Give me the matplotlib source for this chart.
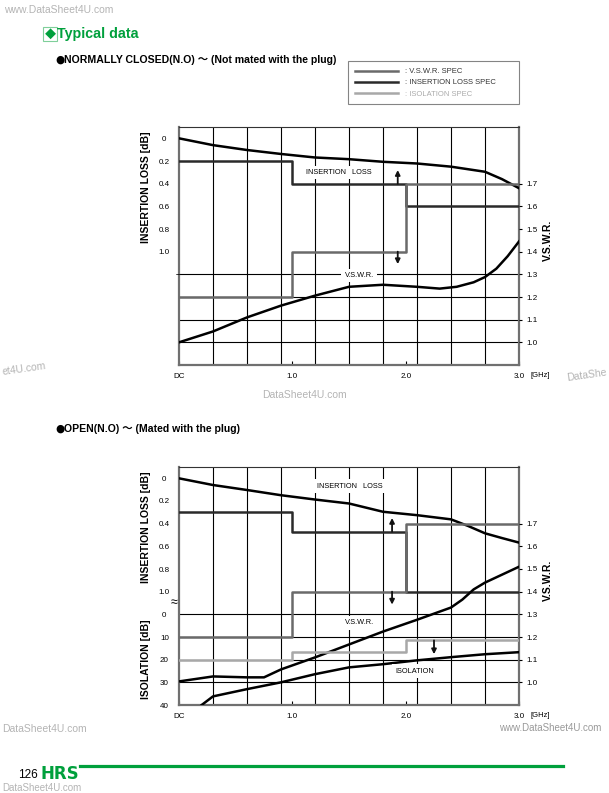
import matplotlib
matplotlib.use('Agg')
import matplotlib.pyplot as plt
from matplotlib.lines import Line2D
import numpy as np

plt.rcParams['font.family'] = ['Liberation Sans', 'Noto Sans CJK JP', 'DejaVu Sans']

# ==============================
# data
# ==============================
freq_ticks = [0, 1.0, 2.0, 3.0]
freq_tick_labels = ['DC', '1.0', '2.0', '3.0']
il_ticks = [0, 0.2, 0.4, 0.6, 0.8, 1.0]
il_tick_labels = ['0', '0.2', '0.4', '0.6', '0.8', '1.0']
vswr_ticks = [1.0, 1.1, 1.2, 1.3, 1.4, 1.5, 1.6, 1.7]
iso_ticks = [0, 10, 20, 30, 40]

spec_freq = [0, 1.0, 2.0, 3.0]     # spec band edges [GHz]

# normally closed, not mated
nc_il_freq = [0, 0.3, 0.6, 0.9, 1.2, 1.5, 1.8, 2.1, 2.4, 2.7, 2.85, 3.0]
nc_il = [0, 0.06, 0.103, 0.138, 0.169, 0.184, 0.207, 0.222, 0.25, 0.295, 0.36, 0.44]
nc_vswr_freq = [0, 0.3, 0.6, 0.9, 1.2, 1.5, 1.8, 2.1, 2.3, 2.45, 2.6, 2.7, 2.8, 2.9, 3.0]
nc_vswr = [1.0, 1.048, 1.11, 1.162, 1.206, 1.245, 1.254, 1.245, 1.237, 1.245,
           1.265, 1.288, 1.325, 1.38, 1.445]
nc_il_spec = [0.2, 0.4, 0.6]
nc_vswr_spec = [1.2, 1.4, 1.7]

# open, mated with the plug
op_il_freq = [0, 0.3, 0.6, 0.9, 1.2, 1.5, 1.8, 2.1, 2.4, 2.55, 2.7, 2.85, 3.0]
op_il = [0, 0.059, 0.103, 0.149, 0.187, 0.222, 0.295, 0.325, 0.362, 0.42, 0.485, 0.527, 0.567]
op_vswr_freq = [0, 0.3, 0.6, 0.75, 0.9, 1.2, 1.5, 1.8, 2.1, 2.4, 2.5, 2.6, 2.7, 2.85, 3.0]
op_vswr = [1.004, 1.026, 1.022, 1.022, 1.057, 1.11, 1.167, 1.224, 1.276, 1.33,
           1.365, 1.41, 1.44, 1.475, 1.51]
op_iso_freq = [0.2, 0.3, 0.6, 0.9, 1.2, 1.5, 1.8, 2.1, 2.4, 2.7, 3.0]
op_iso = [40, 36.2, 33, 30, 26.4, 23.4, 22, 20.3, 18.9, 17.6, 16.7]
op_il_spec = [0.3, 0.47, 1.0]
op_vswr_spec = [1.2, 1.4, 1.7]
op_iso_spec = [20, 16.5, 11.5]

# colours
GREEN = '#00a03c'
VSWR_SPEC_C = '#6a6a6a'
IL_SPEC_C = '#2a2a2a'
ISO_SPEC_C = '#a8a8a8'
WM = '#b4b4b4'

W, H = 609, 793
fig = plt.figure(figsize=(W / 100, H / 100), dpi=100)


def fx(px):
    return px / W


def fy(py):
    return 1 - py / H


def chart(top_px, il_f, il_v, vs_f, vs_v, il_spec, vs_spec,
          iso_f=None, iso_v=None, iso_spec=None):
    ax = fig.add_axes([fx(179), fy(top_px + 238), fx(519) - fx(179), 238 / H])
    ax.set_xlim(0, 3.0)
    ax.set_ylim(2.0, -0.1)

    # grid
    ax.set_xticks(np.arange(0.3, 2.8, 0.3), minor=True)
    ax.set_yticks(np.arange(0, 1.9, 0.2), minor=True)
    ax.grid(which='minor', color='black', lw=0.8)
    ax.tick_params(which='minor', length=0)

    ax.set_xticks(freq_ticks)
    ax.set_xticklabels(freq_tick_labels)
    ax.set_yticks(il_ticks)
    ax.set_yticklabels(il_tick_labels)
    ax.tick_params(axis='x', direction='in', length=3, labelsize=5.8, pad=6)
    ax.tick_params(axis='y', length=0, labelsize=5.8, pad=10.5)
    for lab in ax.get_yticklabels():
        lab.set_ha('center')
    for s in ['left', 'right', 'bottom']:
        ax.spines[s].set_color('#707070')
        ax.spines[s].set_linewidth(1.6)
    ax.spines['top'].set_color('#333333')
    ax.spines['top'].set_linewidth(0.8)

    # V.S.W.R. on the right, same rows
    axv = ax.twinx()
    axv.set_ylim(0.9, 1.95)
    axv.set_yticks(vswr_ticks)
    axv.set_yticklabels([f'{v:.1f}' for v in vswr_ticks])
    axv.tick_params(axis='y', direction='out', length=2, labelsize=5.8, pad=3)
    for s in axv.spines.values():
        s.set_visible(False)

    axv.step(spec_freq, vs_spec + vs_spec[-1:], where='post', color=VSWR_SPEC_C, lw=1.8)
    ax.step(spec_freq, il_spec + il_spec[-1:], where='post', color=IL_SPEC_C, lw=1.8, zorder=3)
    ax.plot(il_f, il_v, color='black', lw=1.8, zorder=4)
    axv.plot(vs_f, vs_v, color='black', lw=1.8)

    axi = None
    if iso_f is not None:
        axi = ax.twinx()
        axi.set_ylim(40, -65)
        axi.yaxis.tick_left()
        axi.set_yticks(iso_ticks)
        axi.set_yticklabels([str(v) for v in iso_ticks])
        axi.tick_params(axis='y', length=0, labelsize=5.8, pad=10.5)
        for lab in axi.get_yticklabels():
            lab.set_ha('center')
        for s in axi.spines.values():
            s.set_visible(False)
        axi.step(spec_freq, iso_spec + iso_spec[-1:], where='post', color=ISO_SPEC_C, lw=1.8)
        axi.plot(iso_f, iso_v, color='black', lw=1.8)

    ax.text(-0.097, 0.43, 'INSERTION LOSS [dB]', transform=ax.get_yaxis_transform(),
            rotation=90, ha='center', va='center', fontsize=7.5, fontweight='bold')
    axv.text(1.085, 1.45, 'V.S.W.R.', transform=axv.get_yaxis_transform(),
             rotation=90, ha='center', va='center', fontsize=7.5, fontweight='bold')
    ax.text(1.062, -0.046, '[GHz]', transform=ax.transAxes, ha='center', va='center',
            fontsize=5.5)
    return ax, axv, axi


arrow = dict(arrowstyle='-|>', color='#111111', lw=1.3, mutation_scale=7,
             shrinkA=0, shrinkB=0)
box = dict(boxstyle='square,pad=0.45', fc='white', ec='none')

# ---- N.C. chart ----
ax1, ax1v, _ = chart(127, nc_il_freq, nc_il, nc_vswr_freq, nc_vswr, nc_il_spec, nc_vswr_spec)
ax1.text(1.41, 0.30, 'INSERTION   LOSS', ha='center', va='center', fontsize=5.3,
         bbox=box, zorder=2.5)
ax1v.text(1.59, 1.295, 'V.S.W.R.', ha='center', va='center', fontsize=5.3, bbox=box)
ax1.annotate('', xy=(1.93, 0.28), xytext=(1.93, 0.4), arrowprops=arrow)
ax1v.annotate('', xy=(1.93, 1.345), xytext=(1.93, 1.4), arrowprops=arrow)
ax1.text(-0.004, 1.2, '–', transform=ax1.get_yaxis_transform(), ha='center',
         va='center', fontsize=6, fontweight='bold')

# ---- OPEN chart ----
ax2, ax2v, ax2i = chart(467, op_il_freq, op_il, op_vswr_freq, op_vswr, op_il_spec,
                        op_vswr_spec, op_iso_freq, op_iso, op_iso_spec)
ax2.text(1.51, 0.07, 'INSERTION   LOSS', ha='center', va='center', fontsize=5.3,
         bbox=box, zorder=2.5)
ax2v.text(1.59, 1.263, 'V.S.W.R.', ha='center', va='center', fontsize=5.3, bbox=box)
ax2i.text(2.08, 25.1, 'ISOLATION', ha='center', va='center', fontsize=5.3, bbox=box)
ax2.annotate('', xy=(1.88, 0.35), xytext=(1.88, 0.47), arrowprops=arrow)
ax2v.annotate('', xy=(1.88, 1.343), xytext=(1.88, 1.4), arrowprops=arrow)
ax2i.annotate('', xy=(2.25, 17.6), xytext=(2.25, 11.5), arrowprops=arrow)
ax2i.text(-0.097, 20, 'ISOLATION [dB]', transform=ax2i.get_yaxis_transform(),
          rotation=90, ha='center', va='center', fontsize=7.5, fontweight='bold')
ax2.text(-0.013, 1.1, '≈', transform=ax2.get_yaxis_transform(), ha='center',
         va='center', fontsize=9)

# legend (uses the real spec lines of the OPEN chart)
handles = [ax2v.lines[0], ax2.lines[0], ax2i.lines[0]]
leg = fig.legend(handles, [': V.S.W.R. SPEC', ': INSERTION LOSS SPEC', ': ISOLATION SPEC'],
                 loc='upper left',
                 bbox_to_anchor=(fx(348), fy(105), fx(519) - fx(348), fy(61) - fy(105)),
                 mode='expand', fontsize=5.5, frameon=True, fancybox=False,
                 edgecolor='#666666', handlelength=5.6, handletextpad=0.9,
                 labelspacing=0.5, borderaxespad=0, borderpad=0.9,
                 labelcolor=['#333333', '#333333', '#aaaaaa'])
leg.get_frame().set_linewidth(0.8)

# ---- page texts ----
fig.text(fx(50), fy(34), '◆', color=GREEN, ha='center', va='center', fontsize=8,
         bbox=dict(boxstyle='square,pad=0.12', fc='white', ec='#7fcf9a', lw=0.8))
fig.text(fx(57), fy(34), 'Typical data', color=GREEN, ha='left', va='center',
         fontsize=10.3, fontweight='bold')
fig.text(fx(55), fy(60), '●', ha='left', va='center', fontsize=7.6,
         family=['DejaVu Sans'])
fig.text(fx(64), fy(60), 'NORMALLY CLOSED(N.O) ～ (Not mated with the plug)',
         ha='left', va='center', fontsize=7.6, fontweight='bold')
fig.text(fx(55), fy(429), '●', ha='left', va='center', fontsize=7.6,
         family=['DejaVu Sans'])
fig.text(fx(64), fy(429), 'OPEN(N.O) ～ (Mated with the plug)',
         ha='left', va='center', fontsize=7.6, fontweight='bold')

# watermarks (partly off the page in the scan, only the visible part is kept)
fig.text(fx(4), fy(10), 'www.DataSheet4U.com', color=WM, fontsize=7.5, va='center')
fig.text(fx(1), fy(369), 'et4U.com', color=WM, fontsize=7.5, va='center',
         ha='left', rotation=8)
fig.text(fx(607), fy(375), 'DataShe', color=WM, fontsize=7.5, va='center',
         ha='right', rotation=8)
fig.text(fx(304), fy(395), 'DataSheet4U.com', color=WM, fontsize=7.5, va='center',
         ha='center')
fig.text(fx(2), fy(729), 'DataSheet4U.com', color=WM, fontsize=7.5, va='center')
fig.text(fx(601), fy(728), 'www.DataSheet4U.com', color='#999999', fontsize=7,
         va='center', ha='right')
fig.text(fx(2), fy(788), 'DataSheet4U.com', color=WM, fontsize=7, va='center')

# footer
fig.add_artist(Line2D([fx(80), fx(563)], [fy(766), fy(766)], color=GREEN, lw=2.3))
fig.text(fx(18), fy(775), '126', fontsize=8.5, va='center', ha='left')
fig.text(fx(41), fy(774), 'HRS', color=GREEN, fontsize=12, fontweight='bold',
         va='center', ha='left', family=['DejaVu Sans'])

fig.savefig('out.png', dpi=100, facecolor='white')
